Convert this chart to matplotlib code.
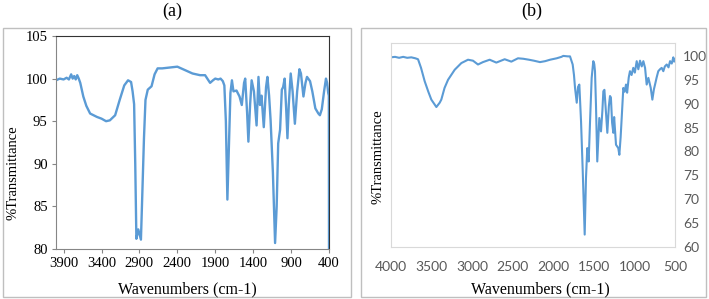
import matplotlib
matplotlib.use("Agg")
import matplotlib.pyplot as plt
from matplotlib.patches import Rectangle

# FTIR spectrum (a)
wn_a = [4000, 3950, 3900, 3860, 3830, 3800, 3780, 3760, 3740, 3720, 3700, 3680,
        3640, 3600, 3550, 3460, 3400, 3340, 3290, 3220, 3160, 3100, 3050, 3010,
        2990, 2970, 2955, 2940, 2915, 2880, 2860, 2840, 2820, 2790, 2740, 2700,
        2660, 2600, 2500, 2400, 2300, 2200, 2100, 2034, 1990, 1968, 1930, 1900,
        1860, 1830, 1800, 1780, 1760, 1740, 1720, 1700, 1680, 1660, 1620, 1580,
        1550, 1520, 1505, 1480, 1463, 1440, 1420, 1390, 1355, 1330, 1310, 1290,
        1260, 1230, 1212, 1190, 1170, 1140, 1111, 1090, 1070, 1045, 1022, 1005,
        985, 965, 948, 930, 905, 880, 850, 820, 790, 770, 737, 710, 690, 650,
        620, 580, 540, 520, 495, 465, 440, 425, 410, 402, 400]
tr_a = [99.8, 100.0, 99.9, 100.1, 99.9, 100.5, 100.0, 100.3, 99.9, 100.4, 100.0, 99.5,
        97.9, 96.8, 95.9, 95.5, 95.3, 95.0, 95.1, 95.7, 97.5, 99.2, 99.8, 99.6,
        98.5, 97.0, 90.0, 81.2, 82.3, 81.1, 87.0, 93.0, 97.5, 98.7, 99.1, 100.5,
        101.2, 101.2, 101.3, 101.4, 101.0, 100.6, 100.4, 100.4, 99.8, 99.5, 99.8, 100.0,
        99.9, 100.0, 99.7, 99.2, 95.0, 85.8, 92.0, 98.3, 99.8, 98.5, 98.6, 97.9,
        96.9, 99.5, 100.0, 96.0, 92.6, 97.0, 99.8, 98.5, 94.5, 100.2, 96.9, 98.0,
        94.3, 99.0, 100.2, 98.0, 95.1, 89.0, 80.7, 85.0, 92.4, 94.0, 98.7, 99.0,
        100.0, 96.5, 93.0, 97.0, 100.6, 98.5, 94.7, 98.5, 101.1, 100.6, 97.9, 99.5, 100.2, 99.7,
        98.5, 96.5, 95.9, 95.7, 96.4, 98.5, 100.0, 99.5, 98.3, 98.0, 80.0]

# FTIR spectrum (b)
wn_b = [4000, 3950, 3900, 3850, 3800, 3750, 3700, 3667, 3630, 3585, 3540, 3503,
        3441, 3400, 3380, 3340, 3297, 3215, 3133, 3051, 2990, 2928, 2867, 2784,
        2702, 2599, 2517, 2435, 2370, 2300, 2240, 2164, 2100, 2040, 1958, 1900,
        1877, 1820, 1794, 1761, 1745, 1732, 1711, 1695, 1679, 1658, 1637, 1613,
        1597, 1581, 1564, 1547, 1527, 1507, 1495, 1486, 1474, 1458, 1433, 1412,
        1395, 1383, 1370, 1350, 1334, 1315, 1301, 1290, 1275, 1260, 1250, 1227,
        1199, 1186, 1170, 1157, 1137, 1120, 1104, 1090, 1070, 1055, 1035, 1014,
        995, 972, 952, 931, 910, 890, 869, 849, 828, 799, 779, 760, 746, 726,
        706, 685, 664, 644, 625, 602, 580, 561, 540, 521, 510, 500]
tr_b = [99.7, 99.8, 99.6, 99.8, 99.6, 99.7, 99.5, 99.3, 97.5, 94.7, 92.5, 90.85,
        89.3, 90.2, 90.85, 93.3, 95.0, 97.1, 98.5, 99.2, 99.0, 98.2, 98.7, 99.2,
        98.6, 99.3, 98.8, 99.5, 99.4, 99.2, 99.0, 98.7, 98.9, 99.2, 99.5, 99.8,
        100.0, 99.9, 99.9, 98.2, 96.0, 93.3, 90.2, 93.5, 94.0, 86.3, 75.85, 62.6,
        74.45, 80.7, 77.9, 86.3, 95.4, 98.9, 98.3, 96.8, 89.8, 77.9, 87.0, 84.2,
        88.5, 92.6, 92.9, 88.0, 83.9, 89.5, 91.6, 91.3, 86.0, 83.9, 87.2, 81.4,
        80.7, 79.3, 83.0, 87.0, 93.3, 92.5, 94.0, 92.3, 95.5, 96.8, 96.0, 97.5,
        96.5, 98.9, 97.2, 99.0, 97.8, 98.9, 97.5, 94.0, 95.4, 93.3, 90.85, 93.0, 94.0, 95.5,
        96.8, 97.2, 97.5, 96.8, 97.8, 98.2, 97.6, 98.9, 98.4, 99.7, 98.8, 99.2]

xt_a = [3900, 3400, 2900, 2400, 1900, 1400, 900, 400]
yt_a = [80, 85, 90, 95, 100, 105]
xt_b = [4000, 3500, 3000, 2500, 2000, 1500, 1000, 500]
yt_b = [60, 65, 70, 75, 80, 85, 90, 95, 100]

blue = "#5B9BD5"
serif = "Liberation Serif"
sans = "Lato"

fig = plt.figure(figsize=(7.09, 2.99), dpi=100)
W, H = 709, 299

def fx(px):
    return px / W

def fy(py):
    return 1 - py / H

# outer boxes round each panel
fig.patches.append(Rectangle((fx(3), fy(297)), fx(348), 269 / H, transform=fig.transFigure,
                             fill=False, edgecolor="#BFBFBF", linewidth=1.0))
fig.patches.append(Rectangle((fx(361), fy(297)), fx(345), 269 / H, transform=fig.transFigure,
                             fill=False, edgecolor="#BFBFBF", linewidth=1.0))

# panel (a)
ax1 = fig.add_axes([fx(56), fy(249), fx(329 - 56), (249 - 36) / H])
ax1.plot(wn_a, tr_a, color=blue, lw=1.7)
ax1.set_xlim(4000, 400)
ax1.set_ylim(80, 105)
ax1.set_xticks(xt_a)
ax1.set_yticks(yt_a)
for s in ["left", "bottom"]:
    ax1.spines[s].set_color("#868686")
for s in ["top", "right"]:
    ax1.spines[s].set_color("#333333")
ax1.tick_params(length=3, color="#868686", labelsize=10.5, pad=3)
for lab in ax1.get_xticklabels() + ax1.get_yticklabels():
    lab.set_fontfamily(serif)
fig.text(fx(172), fy(11), "(a)", ha="center", va="center", fontsize=13, family=serif)
fig.text(fx(187), fy(289), "Wavenumbers (cm-1)", ha="center", va="center", fontsize=11.5, family=serif)
fig.text(fx(13), fy(173), "%Transmittance", ha="center", va="center", rotation=90,
         fontsize=10.5, family=serif)

# panel (b)
ax2 = fig.add_axes([fx(391), fy(247), fx(675 - 391), (247 - 43) / H])
ax2.plot(wn_b, tr_b, color=blue, lw=1.5)
ax2.set_xlim(4000, 500)
ax2.set_ylim(60, 102.7)
ax2.set_xticks(xt_b)
ax2.set_yticks(yt_b)
for s in ax2.spines.values():
    s.set_color("#D9D9D9")
ax2.yaxis.tick_right()
ax2.tick_params(length=0, labelsize=10, labelcolor="#595959", pad=10)
ax2.tick_params(axis="y", pad=6)
for lab in ax2.get_xticklabels() + ax2.get_yticklabels():
    lab.set_fontfamily(sans)
fig.text(fx(532), fy(11), "(b)", ha="center", va="center", fontsize=13, family=serif)
fig.text(fx(540), fy(289), "Wavenumbers (cm-1)", ha="center", va="center", fontsize=11.5, family=serif)
fig.text(fx(378), fy(157), "%Transmittance", ha="center", va="center", rotation=90,
         fontsize=10.5, family=serif)

fig.savefig("out.png", dpi=100)
